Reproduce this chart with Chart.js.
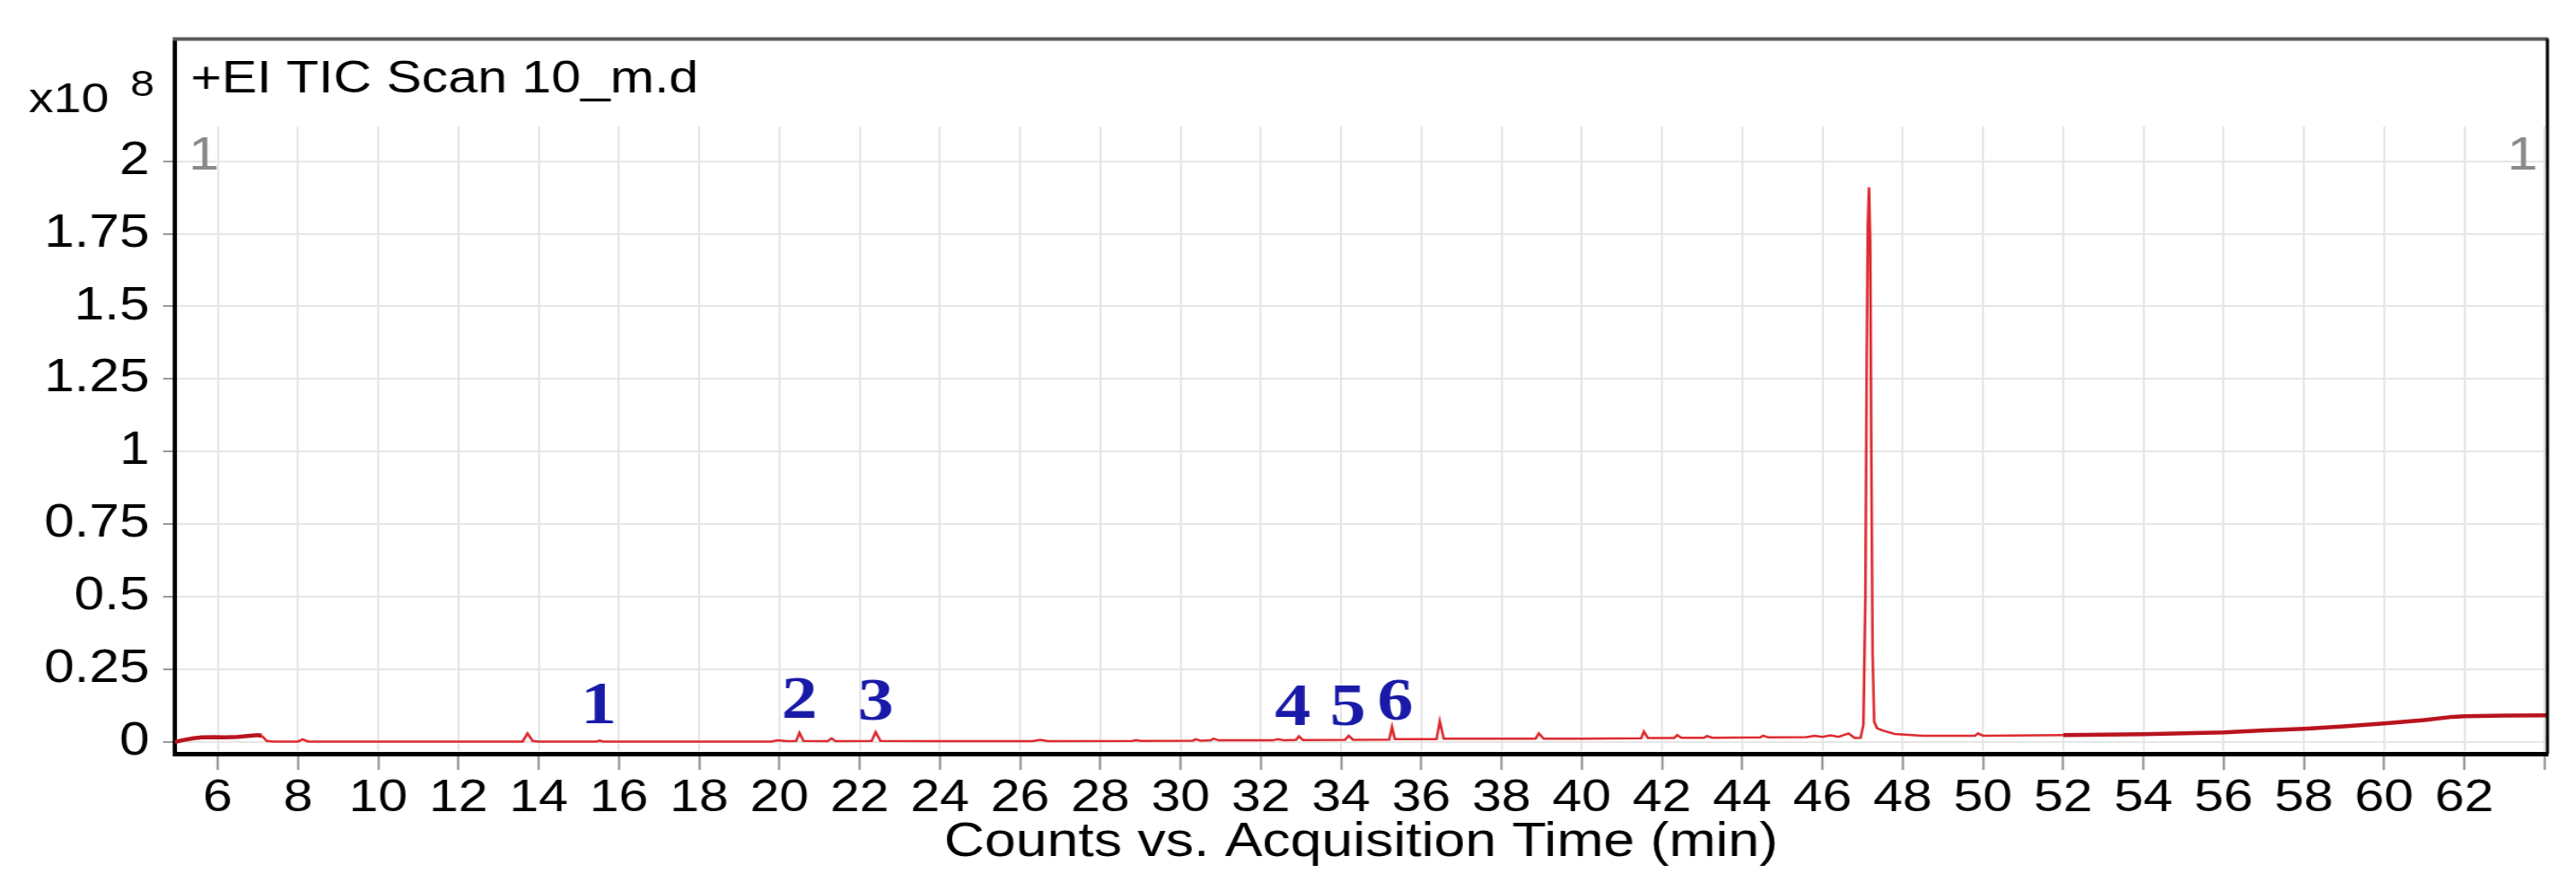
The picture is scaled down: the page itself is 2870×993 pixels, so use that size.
<!DOCTYPE html>
<html>
<head>
<meta charset="utf-8">
<script src="https://cdn.jsdelivr.net/npm/chart.js@4.4.1/dist/chart.umd.min.js"></script>
<style>
  html, body { margin: 0; padding: 0; background: #fff; overflow: hidden; }
</style>
</head>
<body>
<!-- the original figure is stretched sideways, so the canvas is drawn narrower and widened by CSS -->
<canvas id="tic" width="2432" height="993" style="display:block;width:2870px;height:993px"></canvas>
<script>
// retention time (min)
const times = [
  4.93, 5.10, 5.40, 5.60, 5.90, 6.20, 6.50, 6.80, 7.00, 7.10, 7.22, 7.40,
  8.00, 8.12, 8.25, 10.00, 13.60, 13.72, 13.85, 14.00, 15.45, 15.52, 15.60,
  19.80, 19.95, 20.20, 20.42, 20.50, 20.60, 21.20, 21.30, 21.40, 22.30, 22.40, 22.52,
  24.00, 26.30, 26.50, 26.70, 28.80, 28.90, 29.00, 30.30, 30.38, 30.50, 30.75, 30.82, 30.95,
  32.30, 32.42, 32.60, 32.88, 32.95, 33.05, 34.10, 34.19, 34.30, 35.20, 35.27, 35.34,
  36.38, 36.46, 36.56, 37.20, 38.85, 38.93, 39.05, 40.00, 41.48, 41.55, 41.65,
  42.30, 42.38, 42.48, 43.05, 43.12, 43.25, 44.45, 44.52, 44.65, 45.60, 45.80, 46.00,
  46.20, 46.40, 46.65, 46.80, 46.95, 47.02, 47.07, 47.10, 47.13, 47.16, 47.19, 47.22,
  47.25, 47.29, 47.36, 47.50, 47.80, 48.50, 49.80, 49.88, 50.00, 52.00, 54.00, 56.00,
  57.00, 58.00, 59.00, 60.00, 61.00, 61.70, 62.00, 63.00, 64.05
];
// counts (x10^8)
const counts = [
  0.000, 0.006, 0.013, 0.016, 0.017, 0.016, 0.018, 0.022, 0.024, 0.022, 0.004, 0.002,
  0.002, 0.010, 0.002, 0.002, 0.002, 0.030, 0.004, 0.002, 0.002, 0.005, 0.002,
  0.002, 0.006, 0.003, 0.004, 0.032, 0.004, 0.003, 0.013, 0.003, 0.004, 0.034, 0.004,
  0.003, 0.003, 0.008, 0.003, 0.004, 0.007, 0.004, 0.005, 0.010, 0.005, 0.006, 0.012, 0.006,
  0.006, 0.010, 0.006, 0.008, 0.020, 0.007, 0.008, 0.022, 0.008, 0.009, 0.052, 0.010,
  0.010, 0.072, 0.012, 0.012, 0.012, 0.030, 0.012, 0.012, 0.013, 0.036, 0.014,
  0.014, 0.024, 0.015, 0.015, 0.021, 0.015, 0.016, 0.022, 0.016, 0.017, 0.022, 0.018,
  0.023, 0.018, 0.030, 0.014, 0.015, 0.060, 0.500, 1.250, 1.780, 1.910, 1.720, 0.950,
  0.300, 0.070, 0.048, 0.040, 0.028, 0.022, 0.022, 0.030, 0.022, 0.024, 0.027, 0.033,
  0.040, 0.046, 0.054, 0.064, 0.076, 0.087, 0.089, 0.091, 0.092
];

const xTicks = [6, 8, 10, 12, 14, 16, 18, 20, 22, 24, 26, 28, 30, 32, 34, 36, 38, 40,
  42, 44, 46, 48, 50, 52, 54, 56, 58, 60, 62, 64];
const yTicks = [0, 0.25, 0.5, 0.75, 1, 1.25, 1.5, 1.75, 2];

// numbered peaks
const peakLabels = ['1', '2', '3', '4', '5', '6'];
const peakTimes = [15.5, 20.5, 22.4, 32.8, 34.17, 35.35];
const peakLabelLevels = [0.064, 0.083, 0.077, 0.058, 0.058, 0.077];

const SANS = '"Liberation Sans", Arial, sans-serif';
Chart.defaults.font.family = SANS;
Chart.defaults.color = '#000';

// noisy parts of the trace look darker and heavier
const isNoisy = ctx => ctx.p0.parsed.x >= 52 || ctx.p1.parsed.x <= 7.1;

// 装饰：外框、标题、峰编号
const ticDecor = {
  id: 'ticDecor',
  beforeDatasetsDraw(chart) {
    const { ctx, chartArea, scales: { x, y } } = chart;
    // vertical grid only starts a bit below the frame top
    const top = y.getPixelForValue(2.12);
    ctx.save();
    ctx.strokeStyle = '#e6e6e6';
    ctx.lineWidth = 2;
    xTicks.forEach(t => {
      const px = Math.round(x.getPixelForValue(t));
      ctx.beginPath();
      ctx.moveTo(px, top);
      ctx.lineTo(px, chartArea.bottom - 3);
      ctx.stroke();
    });
    ctx.restore();
  },
  afterDraw(chart) {
    const { ctx, chartArea, scales: { x, y } } = chart;
    ctx.save();

    // top and right edges of the frame
    ctx.strokeStyle = '#5a5a5a';
    ctx.lineWidth = 4;
    ctx.beginPath();
    ctx.moveTo(chartArea.left - 2, chartArea.top);
    ctx.lineTo(chartArea.right + 1, chartArea.top);
    ctx.stroke();
    ctx.strokeStyle = '#000';
    ctx.lineWidth = 3;
    ctx.beginPath();
    ctx.moveTo(chartArea.right, chartArea.top);
    ctx.lineTo(chartArea.right, chartArea.bottom);
    ctx.stroke();

    // file title
    ctx.fillStyle = '#000';
    ctx.textAlign = 'left';
    ctx.textBaseline = 'alphabetic';
    ctx.font = '50px ' + SANS;
    ctx.fillText('+EI TIC Scan 10_m.d', chartArea.left + 15, 103);

    // exponent
    ctx.font = '47px ' + SANS;
    ctx.fillText('x10', 27, 125);
    ctx.font = '41px ' + SANS;
    ctx.fillText('8', 123, 107);

    // gray "1" markers
    ctx.fillStyle = '#8a8a8a';
    ctx.font = '52px ' + SANS;
    ctx.fillText('1', chartArea.left + 13, 189);
    ctx.fillText('1', chartArea.right - 38, 189);

    // peak numbers
    ctx.fillStyle = '#1a1aa8';
    ctx.textAlign = 'center';
    ctx.font = 'bold 68px "Liberation Serif", "Times New Roman", serif';
    peakLabels.forEach((lbl, i) => {
      ctx.fillText(lbl, x.getPixelForValue(peakTimes[i]), y.getPixelForValue(peakLabelLevels[i]));
    });

    ctx.restore();
  }
};

new Chart(document.getElementById('tic'), {
  type: 'line',
  data: {
    datasets: [{
      data: times.map((t, i) => ({ x: t, y: counts[i] })),
      borderColor: '#dd2a2f',
      borderWidth: 2.5,
      pointRadius: 0,
      tension: 0,
      fill: false,
      segment: {
        borderColor: ctx => (isNoisy(ctx) ? '#b8141f' : undefined),
        borderWidth: ctx => (isNoisy(ctx) ? 4.5 : undefined)
      }
    }]
  },
  options: {
    responsive: false,
    animation: false,
    events: [],
    layout: { padding: { top: 36, right: 27, bottom: 0, left: 0 } },
    plugins: {
      legend: { display: false },
      tooltip: { enabled: false }
    },
    scales: {
      x: {
        type: 'linear',
        min: 4.93,
        max: 64.07,
        afterFit(scale) { scale.height = 153; },
        afterBuildTicks(scale) { scale.ticks = xTicks.map(v => ({ value: v })); },
        grid: {
          drawOnChartArea: false,
          tickColor: '#8c8c8c',
          tickLength: 18,
          tickWidth: 2
        },
        border: { color: '#000', width: 5 },
        ticks: {
          autoSkip: false,
          maxRotation: 0,
          padding: 2,
          font: { size: 50 },
          color: '#000',
          callback: v => (v > 62 ? '' : String(v))
        },
        title: {
          display: true,
          text: 'Counts vs. Acquisition Time (min)',
          font: { size: 53 },
          color: '#000',
          padding: { top: 0, bottom: 22 }
        }
      },
      y: {
        min: -0.04,
        max: 2.42,
        afterFit(scale) { scale.width = 165; },
        afterBuildTicks(scale) { scale.ticks = yTicks.map(v => ({ value: v })); },
        grid: {
          color: '#e6e6e6',
          lineWidth: 2,
          tickColor: '#9a9a9a',
          tickLength: 11,
          tickWidth: 2
        },
        border: { color: '#000', width: 4 },
        ticks: {
          padding: 13,
          font: { size: 51 },
          color: '#000',
          callback: v => String(v)
        }
      }
    }
  },
  plugins: [ticDecor]
});
</script>
</body>
</html>
